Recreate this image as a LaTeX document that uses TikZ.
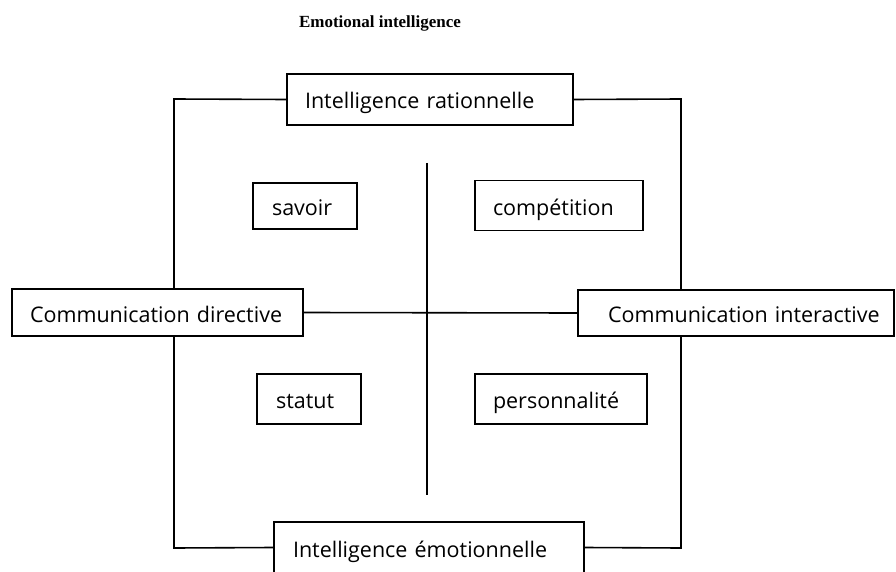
\documentclass[tikz,border=0pt]{standalone}
\usepackage{fontspec}
\setmainfont{Open Sans}
\newfontfamily\titlefont{Liberation Serif}
\begin{document}
\begin{tikzpicture}[x=1pt,y=-1pt,
  box/.style={draw=black, line width=1.6pt, rectangle, inner xsep=0pt, inner ysep=0pt,
    align=left, font=\fontsize{21.5}{24}\selectfont, anchor=center,
    text height=19pt, text depth=0pt},
  conn/.style={draw=black, line width=1.6pt, line join=miter}]
\useasboundingbox (0,0) rectangle (896,572);
\fill[white] (0,0) rectangle (896,572);
\node[font=\titlefont\bfseries\fontsize{17}{19}\selectfont] (title) at (380,23) {Emotional intelligence};
\node[box, text width=286pt, minimum height=51pt] (top) at (430,99.5) {\hspace*{18pt}Intelligence rationnelle};
\node[box, text width=291pt, minimum height=47pt] (left) at (157.5,312.5) {\hspace*{18pt}Communication directive};
\node[box, text width=316pt, minimum height=46pt] (right) at (736,313) {\hspace*{30pt}Communication interactive};
\node[box, text width=310pt, minimum height=51pt] (bottom) at (429,547.5) {\hspace*{19pt}Intelligence émotionnelle};
\node[box, text width=104pt, minimum height=46pt] (savoir) at (305,206) {\hspace*{19pt}savoir};
\node[box, text width=168pt, minimum height=50pt] (comp) at (559,205.5) {\hspace*{18pt}compétition};
\node[box, text width=104pt, minimum height=50pt] (statut) at (309,399) {\hspace*{19pt}statut};
\node[box, text width=172pt, minimum height=50pt] (perso) at (561,399) {\hspace*{18pt}personnalité};
\coordinate (tl) at (174,99);
\coordinate (tr) at (681,99);
\coordinate (bl) at (174,548);
\coordinate (br) at (681,548);
\coordinate (vt) at (427,163);
\coordinate (vb) at (427,495);
\draw[conn] (top.west) -- (tl) -- (tl |- left.north);
\draw[conn] (top.east) -- (tr) -- (tr |- right.north);
\draw[conn] (tl |- left.south) -- (bl) -- (bottom.west);
\draw[conn] (tr |- right.south) -- (br) -- (bottom.east);
\draw[conn] (left.east) -- (right.west);
\draw[conn] (vt) -- (vb);
\end{tikzpicture}
\end{document}
